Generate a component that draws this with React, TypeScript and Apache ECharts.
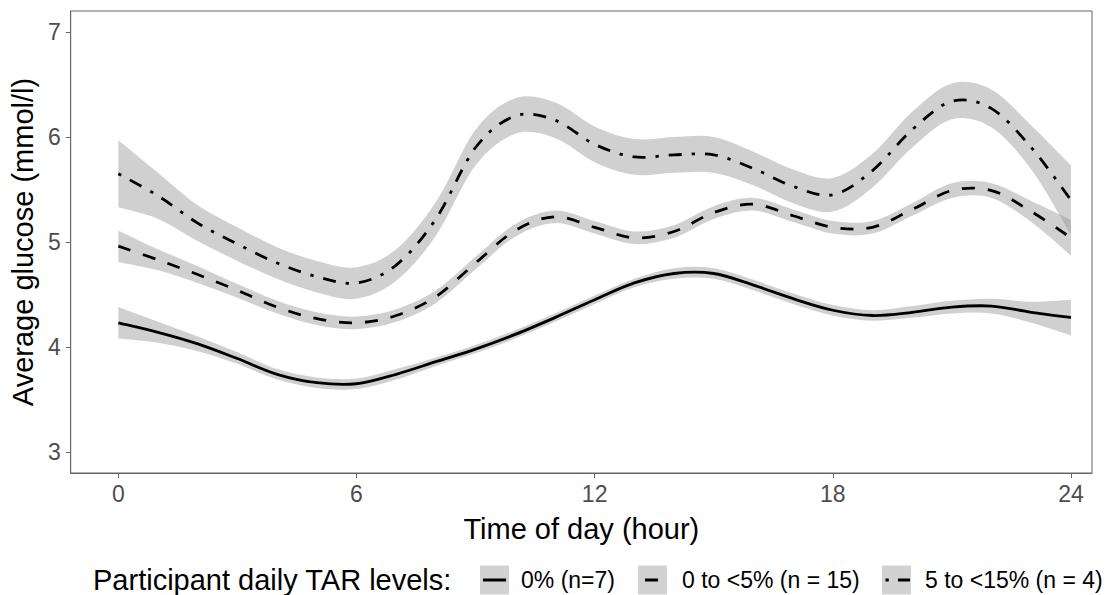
import React, { useEffect, useRef } from "react";
import * as echarts from "echarts";

// Time of day (hours)
const hours = [0, 1, 2, 3, 4, 5, 6, 7, 8, 9, 10, 11, 12, 13, 14, 15, 16, 17, 18, 19, 20, 21, 22, 23, 24];

// Group 1: 0% (n=7) — solid
const g1Mean = [4.23, 4.14, 4.03, 3.89, 3.74, 3.66, 3.65, 3.74, 3.86, 3.98, 4.12, 4.28, 4.45, 4.61, 4.70, 4.70, 4.59, 4.46, 4.35, 4.30, 4.33, 4.38, 4.39, 4.33, 4.28];
const g1Lower = [4.08, 4.04, 3.96, 3.84, 3.69, 3.61, 3.60, 3.69, 3.82, 3.94, 4.08, 4.24, 4.41, 4.57, 4.65, 4.65, 4.54, 4.41, 4.30, 4.25, 4.28, 4.32, 4.32, 4.23, 4.11];
const g1Upper = [4.38, 4.24, 4.10, 3.95, 3.79, 3.71, 3.70, 3.79, 3.90, 4.02, 4.16, 4.32, 4.49, 4.65, 4.75, 4.75, 4.64, 4.51, 4.40, 4.35, 4.39, 4.44, 4.46, 4.43, 4.45];

// Group 2: 0 to <5% (n = 15) — dashed
const g2Mean = [4.96, 4.83, 4.69, 4.54, 4.38, 4.27, 4.23, 4.30, 4.48, 4.80, 5.11, 5.24, 5.14, 5.04, 5.10, 5.28, 5.36, 5.25, 5.14, 5.14, 5.31, 5.49, 5.49, 5.29, 5.04];
const g2Lower = [4.81, 4.73, 4.61, 4.47, 4.32, 4.21, 4.17, 4.24, 4.42, 4.74, 5.05, 5.18, 5.08, 4.98, 5.04, 5.22, 5.30, 5.19, 5.08, 5.08, 5.25, 5.42, 5.42, 5.19, 4.87];
const g2Upper = [5.11, 4.93, 4.77, 4.60, 4.44, 4.33, 4.29, 4.36, 4.54, 4.86, 5.17, 5.30, 5.20, 5.10, 5.16, 5.34, 5.42, 5.31, 5.20, 5.20, 5.37, 5.56, 5.56, 5.39, 5.21];

// Group 3: 5 to <15% (n = 4) — dot-dash
const g3Mean = [5.65, 5.44, 5.18, 4.98, 4.80, 4.67, 4.61, 4.78, 5.22, 5.90, 6.20, 6.16, 5.93, 5.81, 5.83, 5.83, 5.70, 5.53, 5.45, 5.68, 6.07, 6.34, 6.27, 5.90, 5.40];
const g3Lower = [5.33, 5.22, 5.01, 4.82, 4.65, 4.52, 4.46, 4.63, 5.06, 5.73, 6.03, 5.99, 5.76, 5.64, 5.66, 5.66, 5.54, 5.37, 5.29, 5.52, 5.90, 6.17, 6.09, 5.69, 5.07];
const g3Upper = [5.97, 5.66, 5.35, 5.14, 4.95, 4.82, 4.76, 4.93, 5.38, 6.07, 6.37, 6.33, 6.10, 5.98, 6.00, 6.00, 5.86, 5.69, 5.61, 5.84, 6.24, 6.51, 6.45, 6.11, 5.73];

const xTicks = [0, 6, 12, 18, 24];
const yTicks = [3, 4, 5, 6, 7];

const legendTitle = "Participant daily TAR levels:";
const groupLabels = ["0% (n=7)", "0 to <5% (n = 15)", "5 to <15% (n = 4)"];

const FONT = "'Liberation Sans', Arial, Helvetica, sans-serif";
const RIBBON = "rgba(150,150,150,0.45)";
const KEYFILL = "#d2d2d2";

type Pt = number[];

// Smooth cubic segments through pixel points (Catmull-Rom -> Bezier), rendering only
function curveSegs(pts: Pt[]): string {
  let d = "";
  const n = pts.length;
  for (let i = 0; i < n - 1; i++) {
    const p0 = pts[Math.max(i - 1, 0)];
    const p1 = pts[i];
    const p2 = pts[i + 1];
    const p3 = pts[Math.min(i + 2, n - 1)];
    const c1x = p1[0] + (p2[0] - p0[0]) / 6;
    const c1y = p1[1] + (p2[1] - p0[1]) / 6;
    const c2x = p2[0] - (p3[0] - p1[0]) / 6;
    const c2y = p2[1] - (p3[1] - p1[1]) / 6;
    d += `C${c1x.toFixed(2)},${c1y.toFixed(2)} ${c2x.toFixed(2)},${c2y.toFixed(2)} ${p2[0].toFixed(2)},${p2[1].toFixed(2)}`;
  }
  return d;
}

export default function App() {
  const ref = useRef<HTMLDivElement>(null);
  useEffect(() => {
    if (!ref.current) return;
    const chart = echarts.init(ref.current, undefined, { renderer: "svg" });

    const groups = [
      { mean: g1Mean, lo: g1Lower, up: g1Upper, dash: null as any, name: groupLabels[0] },
      { mean: g2Mean, lo: g2Lower, up: g2Upper, dash: [13, 13], name: groupLabels[1] },
      { mean: g3Mean, lo: g3Lower, up: g3Upper, dash: [3.3, 10, 13, 10], name: groupLabels[2] },
    ];

    const series: any[] = [];
    groups.forEach((g, k) => {
      series.push({
        type: "custom",
        name: "ribbon-" + k,
        silent: true,
        z: 1,
        data: hours.map((h, i) => [h, g.lo[i], g.up[i]]),
        encode: { x: 0, y: [1, 2] },
        renderItem: (params: any, api: any) => {
          if (params.dataIndex !== 0) return null;
          const up = hours.map((h, i) => api.coord([h, g.up[i]]));
          const lo = hours.map((h, i) => api.coord([h, g.lo[i]])).reverse();
          const d =
            `M${up[0][0]},${up[0][1]}` +
            curveSegs(up) +
            `L${lo[0][0]},${lo[0][1]}` +
            curveSegs(lo) +
            "Z";
          return { type: "path", shape: { pathData: d }, style: { fill: RIBBON, stroke: "none" } };
        },
      });
    });
    groups.forEach((g, k) => {
      series.push({
        type: "custom",
        name: g.name,
        z: 5,
        data: hours.map((h, i) => [h, g.mean[i]]),
        encode: { x: 0, y: 1 },
        renderItem: (params: any, api: any) => {
          if (params.dataIndex !== 0) return null;
          const pts = hours.map((h, i) => api.coord([h, g.mean[i]]));
          const d = `M${pts[0][0]},${pts[0][1]}` + curveSegs(pts);
          const style: any = { fill: "none", stroke: "#000", lineWidth: 2.8, lineCap: "butt" };
          if (g.dash) style.lineDash = g.dash;
          return { type: "path", shape: { pathData: d }, style };
        },
      });
    });

    const legendY = 580;
    const keys = [
      { x: 480, label: 521 },
      { x: 638, label: 682 },
      { x: 882, label: 925 },
    ];
    const graphic: any[] = [
      {
        type: "text",
        x: 93,
        y: legendY,
        style: { text: legendTitle, fontSize: 29, fontFamily: FONT, fill: "#000", verticalAlign: "middle" },
      },
    ];
    keys.forEach((k, i) => {
      graphic.push({ type: "rect", shape: { x: k.x, y: legendY - 14.5, width: 29, height: 29 }, style: { fill: KEYFILL } });
      graphic.push({
        type: "text",
        x: k.label,
        y: legendY,
        style: { text: groupLabels[i], fontSize: 23, fontFamily: FONT, fill: "#000", verticalAlign: "middle" },
      });
    });
    graphic.push({ type: "line", shape: { x1: 483, y1: legendY, x2: 506, y2: legendY }, style: { stroke: "#000", lineWidth: 3 } });
    graphic.push({ type: "line", shape: { x1: 645, y1: legendY, x2: 658, y2: legendY }, style: { stroke: "#000", lineWidth: 3 } });
    graphic.push({ type: "line", shape: { x1: 885.5, y1: legendY, x2: 888.8, y2: legendY }, style: { stroke: "#000", lineWidth: 3 } });
    graphic.push({ type: "line", shape: { x1: 898, y1: legendY, x2: 910, y2: legendY }, style: { stroke: "#000", lineWidth: 3 } });

    chart.setOption({
      animation: false,
      backgroundColor: "#fff",
      textStyle: { fontFamily: FONT },
      grid: {
        left: 68,
        right: 18,
        top: 11,
        bottom: 122,
        show: true,
        borderColor: "#666",
        borderWidth: 1,
        backgroundColor: "transparent",
      },
      xAxis: {
        type: "value",
        min: -1.2,
        max: 24.53,
        splitLine: { show: false },
        axisLine: { show: true, onZero: false, lineStyle: { color: "#666", width: 1 } },
        axisTick: { show: true, length: 5, lineStyle: { color: "#666" }, customValues: xTicks },
        axisLabel: { customValues: xTicks, fontSize: 23, color: "#4d4d4d", margin: 9, fontFamily: FONT },
        name: "Time of day (hour)",
        nameLocation: "middle",
        nameGap: 41,
        nameTextStyle: { fontSize: 29, color: "#000", fontFamily: FONT },
      },
      yAxis: {
        type: "value",
        min: 2.8,
        max: 7.2,
        splitLine: { show: false },
        axisLine: { show: true, onZero: false, lineStyle: { color: "#666", width: 1 } },
        axisTick: { show: true, length: 5, lineStyle: { color: "#666" }, customValues: yTicks },
        axisLabel: { customValues: yTicks, fontSize: 23, color: "#4d4d4d", margin: 10, fontFamily: FONT },
        name: "Average glucose (mmol/l)",
        nameLocation: "middle",
        nameRotate: 90,
        nameGap: 28,
        nameTextStyle: { fontSize: 29, color: "#000", fontFamily: FONT },
      },
      series,
      graphic,
    });
    return () => chart.dispose();
  }, []);

  return (
    <div
      ref={ref}
      style={{ position: "fixed", left: 0, top: 0, width: 1110, height: 595, background: "#fff" }}
    />
  );
}
